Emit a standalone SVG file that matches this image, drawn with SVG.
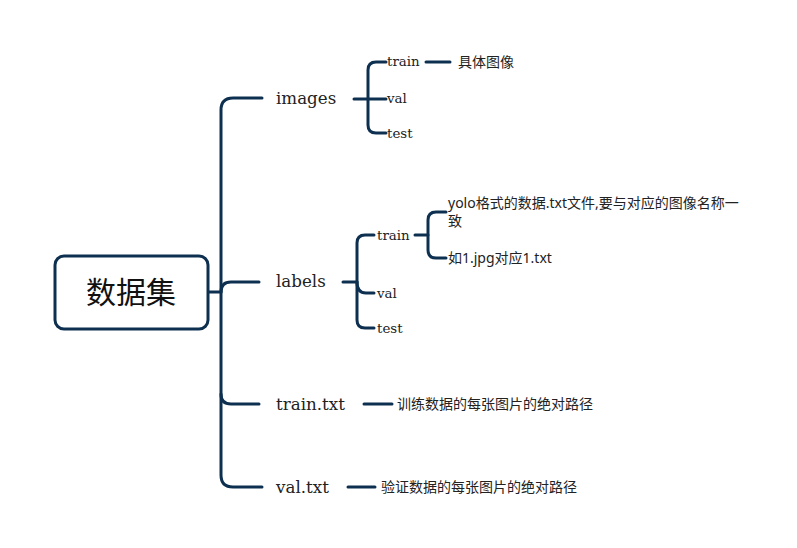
<svg xmlns="http://www.w3.org/2000/svg" width="797" height="548" viewBox="0 0 797 548">
<style>
.c{fill:none;stroke:#0e3050;stroke-width:3;stroke-linecap:round;stroke-linejoin:round}
.en1{font-family:"DejaVu Serif","Liberation Serif",serif;font-size:16.7px;fill:#222}
.en2{font-family:"DejaVu Serif","Liberation Serif",serif;font-size:13.4px;fill:#222}
.zh{font-family:"Noto Sans","Noto Sans CJK SC",sans-serif;font-size:14px;fill:#222}
.root{font-family:"Noto Sans CJK SC",sans-serif;font-size:30px;fill:#111}
</style>
<rect width="797" height="548" fill="#fff"/>
<g id="connectors">
<path class="c" d="M208,292 L221,292"/>
<path class="c" d="M262,98 L233,98 Q221,98 221,110 L221,475 Q221,487 233,487 L262,487"/>
<path class="c" d="M221,292 Q221,282 231,282 L259,282"/>
<path class="c" d="M221,394 Q221,404 231,404 L259,404"/>
<path class="c" d="M354,99 L368,99"/>
<path class="c" d="M386,62 L376,62 Q368,62 368,70 L368,125 Q368,133 376,133 L386,133"/>
<path class="c" d="M368,99 L386,99"/>
<path class="c" d="M426,62 L450,62"/>
<path class="c" d="M343,282 L357,282"/>
<path class="c" d="M374,235 L365,235 Q357,235 357,243 L357,320 Q357,328 365,328 L374,328"/>
<path class="c" d="M357,282 Q357,293 366,293 L374,293"/>
<path class="c" d="M415,235 L428,235"/>
<path class="c" d="M446,212 L436,212 Q428,212 428,220 L428,250 Q428,258 436,258 L446,258"/>
<path class="c" d="M364,404 L392,404"/>
<path class="c" d="M348,487 L375,487"/>
</g>
<g id="root">
<rect x="55" y="256" width="153" height="73" rx="9" fill="#fff" stroke="#0e3050" stroke-width="3"/>
<text class="root" x="131" y="303" text-anchor="middle">数据集</text>
</g>
<g id="images"><text class="en1" x="276" y="104">images</text></g>
<g id="images-train"><text class="en2" x="387" y="66">train</text></g>
<g id="images-val"><text class="en2" x="387" y="103">val</text></g>
<g id="images-test"><text class="en2" x="387" y="138">test</text></g>
<g id="images-detail"><text class="zh" x="458" y="67">具体图像</text></g>
<g id="labels"><text class="en1" x="276" y="287">labels</text></g>
<g id="labels-train"><text class="en2" x="377" y="240">train</text></g>
<g id="labels-val"><text class="en2" x="377" y="298">val</text></g>
<g id="labels-test"><text class="en2" x="377" y="333">test</text></g>
<g id="labels-note1"><text class="zh" x="448" y="208">yolo格式的数据.txt文件,要与对应的图像名称一</text><text class="zh" x="448" y="226">致</text></g>
<g id="labels-note2"><text class="zh" x="448" y="263">如1.jpg对应1.txt</text></g>
<g id="train-txt"><text class="en1" x="276" y="410">train.txt</text></g>
<g id="train-txt-note"><text class="zh" x="397" y="409">训练数据的每张图片的绝对路径</text></g>
<g id="val-txt"><text class="en1" x="276" y="493">val.txt</text></g>
<g id="val-txt-note"><text class="zh" x="381" y="492">验证数据的每张图片的绝对路径</text></g>
</svg>
